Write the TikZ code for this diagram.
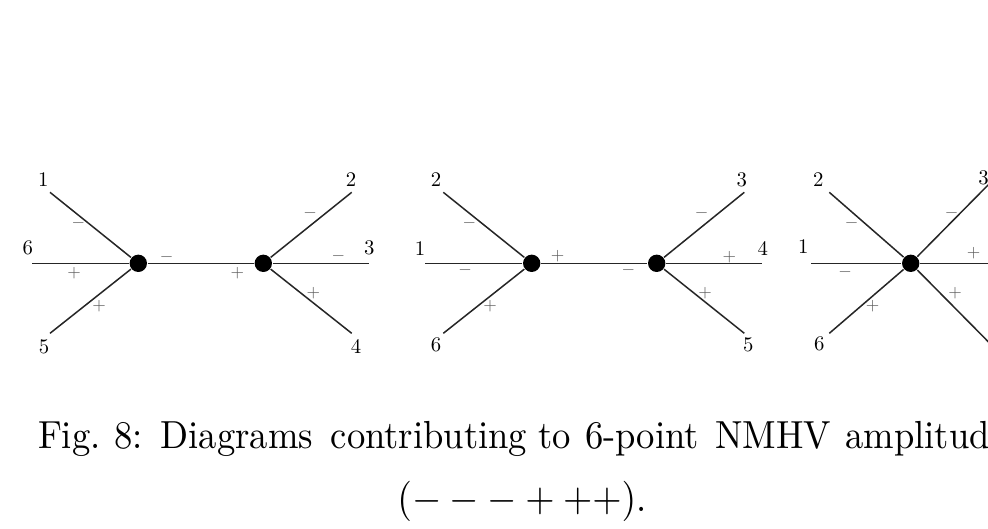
\documentclass[tikz,border=0pt]{standalone}
\usepackage{amsmath,amssymb}
\usepackage{graphicx}
\usepackage{xcolor}
\usepackage{tikz}
\usetikzlibrary{positioning}
\definecolor{SignGray}{RGB}{90,90,90}
\newcommand{\lbl}[1]{\scalebox{0.55}{#1}}
\newcommand{\hel}[1]{\scalebox{0.46}{$#1$}}
\newcommand{\capline}[1]{\scalebox{1}[1.07]{#1}}

\begin{document}
\begin{tikzpicture}[
  x=0.265pt, y=-0.265pt,
  vtx/.style={circle, fill=black, draw=none, inner sep=0pt, minimum size=4.6pt},
  lab/.style={inner sep=0pt, font=\fontsize{10}{12}\selectfont},
  sgn/.style={inner sep=0pt, text=SignGray, font=\fontsize{10}{12}\selectfont},
  leg/.style={line width=0.4pt, draw=black!85},
  capt/.style={inner sep=0pt, font=\fontsize{9.7}{12}\selectfont}
]
\useasboundingbox (0,0) rectangle (988,528);
\clip (0,0) rectangle (988,528);

\node[vtx] (d1l) at (138.3,263.3) {};
\node[vtx] (d1r) at (263.3,263.3) {};
\coordinate (d1p1) at (50,192.3);
\coordinate (d1p6) at (32.3,263.3);
\coordinate (d1p5) at (50,333.3);
\coordinate (d1p2) at (351.7,192.3);
\coordinate (d1p3) at (369,263.3);
\coordinate (d1p4) at (351.7,333.3);
\node[lab] (d1n1) at (43.3,180) {\lbl{1}};
\node[lab] (d1n6) at (27.7,248.3) {\lbl{6}};
\node[lab] (d1n5) at (44,346.7) {\lbl{5}};
\node[lab] (d1n2) at (351,180) {\lbl{2}};
\node[lab] (d1n3) at (369.3,248.3) {\lbl{3}};
\node[lab] (d1n4) at (356,346.7) {\lbl{4}};
\node[sgn] (d1s1) at (78.3,223.3) {\hel{-}};
\node[sgn] (d1s6) at (74,273.3) {\hel{+}};
\node[sgn] (d1s5) at (99,306) {\hel{+}};
\node[sgn] (d1sl) at (166.7,256.7) {\hel{-}};
\node[sgn] (d1sr) at (237.3,273.3) {\hel{+}};
\node[sgn] (d1s2) at (310,213.3) {\hel{-}};
\node[sgn] (d1s3) at (338.3,255.7) {\hel{-}};
\node[sgn] (d1s4) at (313.3,293.3) {\hel{+}};
\draw[leg] (d1l) -- (d1p1);
\draw[leg] (d1l) -- (d1p6);
\draw[leg] (d1l) -- (d1p5);
\draw[leg] (d1l) -- (d1r);
\draw[leg] (d1r) -- (d1p2);
\draw[leg] (d1r) -- (d1p3);
\draw[leg] (d1r) -- (d1p4);

\node[vtx] (d2l) at (531.7,263.3) {};
\node[vtx] (d2r) at (656.7,263.3) {};
\coordinate (d2p2) at (443.3,192.3);
\coordinate (d2p1) at (425,263.3);
\coordinate (d2p6) at (443.3,333.3);
\coordinate (d2p3) at (744.3,192.3);
\coordinate (d2p4) at (761.7,263.3);
\coordinate (d2p5) at (744.3,333.3);
\node[lab] (d2n2) at (436,180) {\lbl{2}};
\node[lab] (d2n1) at (420,248.3) {\lbl{1}};
\node[lab] (d2n6) at (436,345) {\lbl{6}};
\node[lab] (d2n3) at (741.7,180) {\lbl{3}};
\node[lab] (d2n4) at (762.7,248.3) {\lbl{4}};
\node[lab] (d2n5) at (748.3,345) {\lbl{5}};
\node[sgn] (d2s2) at (469.3,223.3) {\hel{-}};
\node[sgn] (d2s1) at (465,270) {\hel{-}};
\node[sgn] (d2s6) at (490,306) {\hel{+}};
\node[sgn] (d2sl) at (557.7,255.7) {\hel{+}};
\node[sgn] (d2sr) at (628.3,270) {\hel{-}};
\node[sgn] (d2s3) at (701.7,213.3) {\hel{-}};
\node[sgn] (d2s4) at (729.3,257.3) {\hel{+}};
\node[sgn] (d2s5) at (705,293.3) {\hel{+}};
\draw[leg] (d2l) -- (d2p2);
\draw[leg] (d2l) -- (d2p1);
\draw[leg] (d2l) -- (d2p6);
\draw[leg] (d2l) -- (d2r);
\draw[leg] (d2r) -- (d2p3);
\draw[leg] (d2r) -- (d2p4);
\draw[leg] (d2r) -- (d2p5);

\node[vtx] (d3c) at (910.7,263.3) {};
\coordinate (d3p2) at (829.3,192.3);
\coordinate (d3p1) at (811,263.3);
\coordinate (d3p6) at (829.3,333.3);
\coordinate (d3p3) at (992,181);
\coordinate (d3p4) at (1010,263.3);
\coordinate (d3p5) at (992,345.5);
\node[lab] (d3n2) at (818.3,180) {\lbl{2}};
\node[lab] (d3n1) at (803.3,246.7) {\lbl{1}};
\node[lab] (d3n6) at (819.3,343.3) {\lbl{6}};
\node[lab] (d3n3) at (983.5,177.5) {\lbl{3}};
\node[sgn] (d3s2) at (851.7,222.7) {\hel{-}};
\node[sgn] (d3s1) at (845,271.7) {\hel{-}};
\node[sgn] (d3s6) at (872.7,306) {\hel{+}};
\node[sgn] (d3s3) at (951.7,213.3) {\hel{-}};
\node[sgn] (d3s4) at (973.7,253) {\hel{+}};
\node[sgn] (d3s5) at (955,293) {\hel{+}};
\draw[leg] (d3c) -- (d3p2);
\draw[leg] (d3c) -- (d3p1);
\draw[leg] (d3c) -- (d3p6);
\draw[leg] (d3c) -- (d3p3);
\draw[leg] (d3c) -- (d3p4);
\draw[leg] (d3c) -- (d3p5);

\node[capt, anchor=base west] (cap1) at (37.3,448)
  {\capline{Fig.\hspace{3.6pt}8:\hspace{4.8pt}Diagrams\hspace{4.7pt}contributing\hspace{2.9pt}to\hspace{3.8pt}6-point\hspace{4.3pt}NMHV\hspace{3.8pt}amplitud}};
\node[capt, anchor=base] (cap2) at (522,511) {\capline{$(---+++)$.}};
\end{tikzpicture}
\end{document}
